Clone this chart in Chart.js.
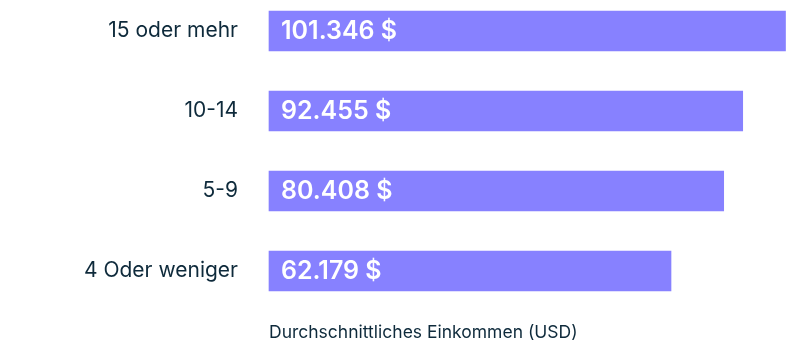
<!DOCTYPE html>
<html>
<head>
<meta charset="utf-8">
<script src="https://cdn.jsdelivr.net/npm/chart.js@4"></script>
<style>
  html, body { margin: 0; padding: 0; background: #fff; }
  #wrap { width: 792px; height: 360px; }
</style>
</head>
<body>
<div id="wrap"><canvas id="income-chart"></canvas></div>
<script>
const categories = ["15 oder mehr", "10-14", "5-9", "4 Oder weniger"];
// amounts printed on the bars
const incomes = [101346, 92455, 80408, 62179];
// bar lengths as drawn in the picture (same USD scale, 0 to 101.346)
const barLengths = [101346, 92950, 89220, 78880];
const axisTitle = "Durchschnittliches Einkommen (USD)";

const FONT = "Inter, 'Noto Sans', sans-serif";
const TEXT_COLOR = "#0e2a3b";
const BAR_COLOR = "#8781ff";

const deFormatter = new Intl.NumberFormat("de-DE", { maximumFractionDigits: 0 });

const valueLabels = {
  id: "valueLabels",
  afterDatasetsDraw(chart) {
    const { ctx } = chart;
    const meta = chart.getDatasetMeta(0);
    ctx.save();
    ctx.fillStyle = "#ffffff";
    ctx.font = `600 25px ${FONT}`;
    ctx.textAlign = "left";
    ctx.textBaseline = "middle";
    meta.data.forEach((bar, i) => {
      ctx.fillText(`${deFormatter.format(incomes[i])} $`, bar.base + 12, bar.y);
    });
    ctx.restore();
  },
};

new Chart(document.getElementById("income-chart"), {
  type: "bar",
  data: {
    labels: categories,
    datasets: [
      {
        data: barLengths,
        backgroundColor: BAR_COLOR,
        borderWidth: 0,
        barThickness: 40,
        clip: false,
      },
    ],
  },
  options: {
    indexAxis: "y",
    responsive: true,
    maintainAspectRatio: false,
    animation: false,
    layout: { padding: { top: 31, right: 6.5, bottom: 0, left: 0 } },
    plugins: {
      legend: { display: false },
      tooltip: { enabled: false },
    },
    scales: {
      x: {
        min: 0,
        max: 101346,
        grid: { display: false },
        border: { display: false },
        ticks: { display: false },
        title: {
          display: true,
          text: axisTitle,
          align: "start",
          color: TEXT_COLOR,
          font: { family: FONT, size: 17.5 },
          padding: { top: 0, bottom: 16.5 },
        },
        afterFit: (scale) => {
          scale.height = 89;
        },
      },
      y: {
        offset: false,
        grid: { display: false, tickLength: 31 },
        border: { display: false },
        ticks: {
          color: TEXT_COLOR,
          padding: 0,
          font: { family: FONT, size: 21 },
        },
        afterFit: (scale) => {
          scale.width = 269;
        },
      },
    },
  },
  plugins: [valueLabels],
});
</script>
</body>
</html>
